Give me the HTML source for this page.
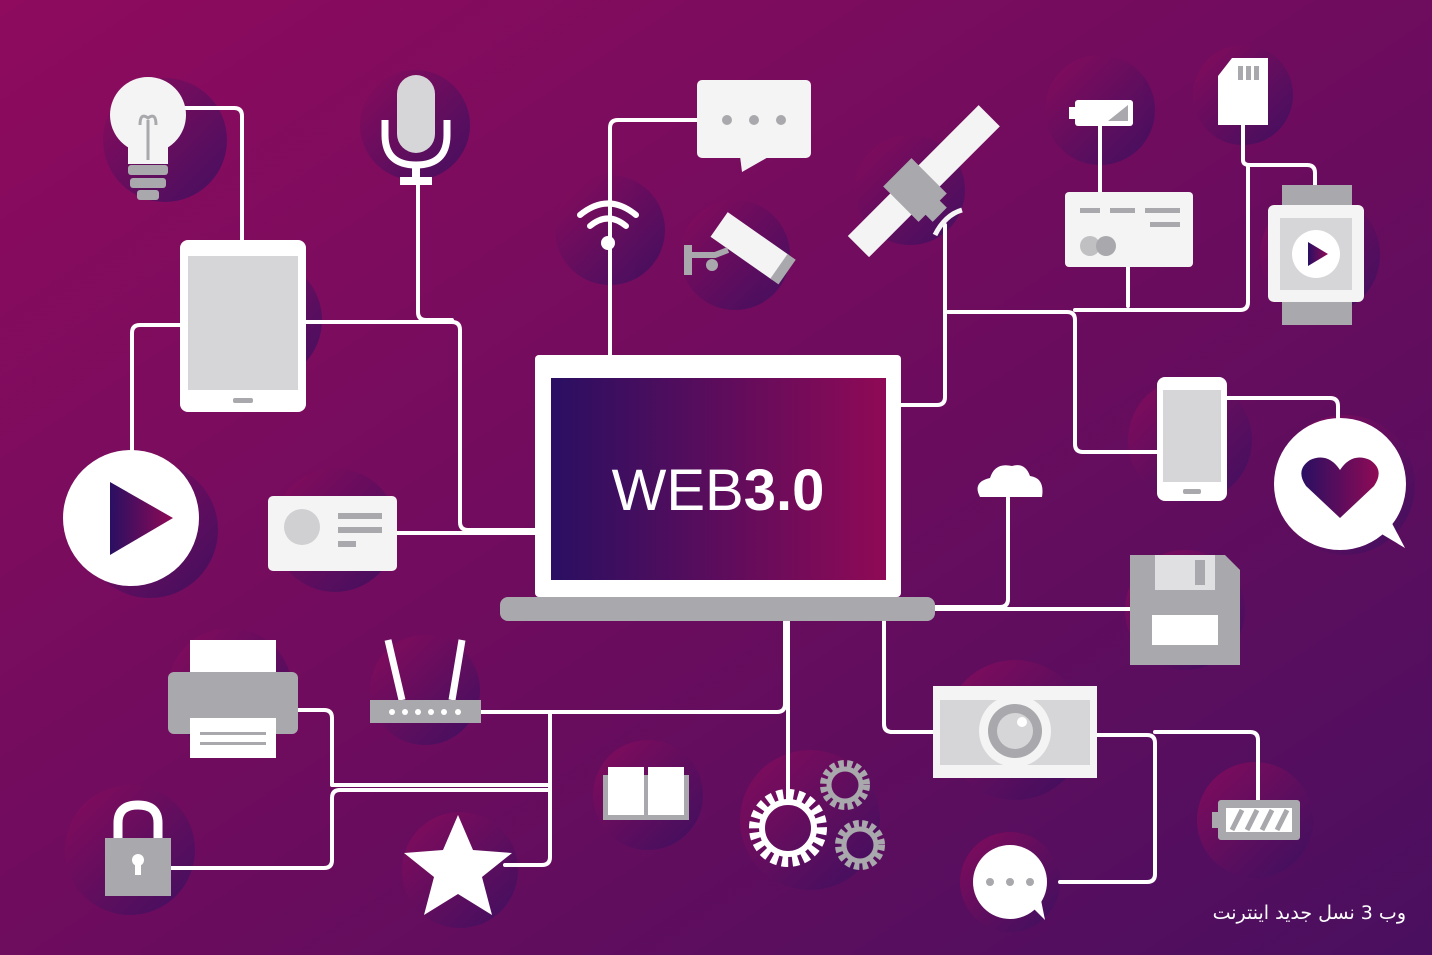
<!DOCTYPE html>
<html><head><meta charset="utf-8"><style>
html,body{margin:0;padding:0;width:1432px;height:955px;overflow:hidden;position:relative}
svg{display:block}
.cap{position:absolute;right:26px;top:902px;font-family:"DejaVu Sans",sans-serif;font-size:19px;color:#fff;direction:rtl;white-space:nowrap}
</style></head><body>
<svg width="1432" height="955" viewBox="0 0 1432 955" xmlns="http://www.w3.org/2000/svg">
<defs>
<linearGradient id="bg" x1="0" y1="0" x2="1" y2="1">
<stop offset="0" stop-color="#8e0b5e"/><stop offset="0.5" stop-color="#6e0c5e"/><stop offset="1" stop-color="#4a0f5f"/>
</linearGradient>
<linearGradient id="scr" x1="0" y1="0" x2="1" y2="0">
<stop offset="0" stop-color="#2a0f62"/><stop offset="1" stop-color="#8f0a56"/>
</linearGradient>
<linearGradient id="blob" x1="0" y1="0" x2="1" y2="1">
<stop offset="0" stop-color="#8a0b5c"/><stop offset="1" stop-color="#3a1060"/>
</linearGradient>
<linearGradient id="tri" x1="0" y1="0" x2="1" y2="0">
<stop offset="0" stop-color="#2a0f62"/><stop offset="1" stop-color="#8f0a56"/>
</linearGradient>
</defs>
<rect width="1432" height="955" fill="url(#bg)"/>
<g fill="url(#blob)" opacity="0.85">
<circle cx="165" cy="140" r="62"/><circle cx="415" cy="125" r="55"/><circle cx="610" cy="230" r="55"/>
<circle cx="735" cy="255" r="55"/><circle cx="910" cy="190" r="55"/><circle cx="1100" cy="110" r="55"/>
<circle cx="1243" cy="95" r="50"/><circle cx="1320" cy="255" r="60"/><circle cx="1190" cy="440" r="62"/>
<circle cx="260" cy="320" r="62"/><circle cx="150" cy="530" r="68"/><circle cx="335" cy="530" r="62"/>
<circle cx="230" cy="690" r="62"/><circle cx="425" cy="690" r="55"/><circle cx="130" cy="850" r="65"/>
<circle cx="460" cy="870" r="58"/><circle cx="648" cy="795" r="55"/><circle cx="810" cy="820" r="70"/>
<circle cx="1015" cy="730" r="70"/><circle cx="1255" cy="820" r="58"/><circle cx="1010" cy="882" r="50"/>
<circle cx="1185" cy="610" r="60"/><circle cx="1345" cy="485" r="70"/>
</g>
<g fill="none" stroke="#fff" stroke-width="4" stroke-linejoin="round" stroke-linecap="round">
<path d="M185 108 H234 Q242 108 242 116 V240"/>
<path d="M180 325 H140 Q132 325 132 333 V452"/>
<path d="M306 322 H452 Q460 322 460 330 V522 Q460 530 468 530 H535"/>
<path d="M418 185 V312 Q418 320 426 320 H452"/>
<path d="M397 533 H535"/>
<path d="M697 120 H618 Q610 120 610 128 V355"/>
<path d="M945 225 V397 Q945 405 937 405 H900"/>
<path d="M948 312 H1067 Q1075 312 1075 320 V444 Q1075 452 1083 452 H1157"/>
<path d="M1128 267 V306"/>
<path d="M1100 125 V192"/>
<path d="M1243 125 V160 Q1243 165 1250 165 H1307 Q1315 165 1315 173 V185"/>
<path d="M1248 165 V302 Q1248 310 1240 310 H1075"/>
<path d="M1227 398 H1330 Q1338 398 1338 406 V418"/>
<path d="M1008 498 V599 Q1008 607 1000 607 H935"/>
<path d="M935 609 H1130"/>
<path d="M785 620 V704 Q785 712 777 712 H481"/>
<path d="M550 712 V857 Q550 865 542 865 H505"/>
<path d="M298 710 H324 Q332 710 332 718 V785 H550"/>
<path d="M170 868 H324 Q332 868 332 860 V798 Q332 790 340 790 H550"/>
<path d="M788 620 V800"/>
<path d="M884 620 V724 Q884 732 892 732 H933"/>
<path d="M1097 735 H1147 Q1155 735 1155 743 V874 Q1155 882 1147 882 H1060"/>
<path d="M1155 732 H1250 Q1258 732 1258 740 V800"/>
</g>
<rect x="535" y="355" width="366" height="242" rx="4" fill="#fff"/>
<rect x="551" y="378" width="335" height="202" fill="url(#scr)"/>
<rect x="500" y="597" width="435" height="24" rx="8" fill="#a9a9ad"/>
<text x="718" y="510" text-anchor="middle" font-family="Liberation Sans, sans-serif" font-size="58" fill="#fff"><tspan font-weight="300">WEB</tspan><tspan font-weight="bold">3.0</tspan></text>
<circle cx="148" cy="115" r="38" fill="#f4f4f4"/><rect x="128" y="140" width="40" height="24" fill="#f4f4f4"/>
<rect x="128" y="165" width="40" height="10" rx="3" fill="#a9a9ad"/><rect x="130" y="178" width="36" height="10" rx="3" fill="#a9a9ad"/><rect x="137" y="190" width="22" height="10" rx="3" fill="#a9a9ad"/>
<path d="M148 160 V120 M140 125 Q140 112 148 118 Q156 112 156 125" stroke="#a9a9ad" stroke-width="3" fill="none"/>
<rect x="180" y="240" width="126" height="172" rx="8" fill="#fff"/><rect x="188" y="256" width="110" height="134" fill="#d6d6d8"/><rect x="233" y="398" width="20" height="5" rx="2" fill="#a9a9ad"/>
<circle cx="131" cy="518" r="68" fill="#fff"/><polygon points="110,482 110,555 173,518" fill="url(#tri)"/>
<rect x="268" y="496" width="129" height="75" rx="5" fill="#f4f4f4"/><circle cx="302" cy="527" r="18" fill="#d0d0d2"/>
<rect x="338" y="513" width="44" height="6" fill="#a9a9ad"/><rect x="338" y="527" width="44" height="6" fill="#a9a9ad"/><rect x="338" y="541" width="18" height="6" fill="#a9a9ad"/>
<rect x="397" y="75" width="38" height="78" rx="19" fill="#d6d6d8"/><path d="M385 120 V135 Q385 165 416 165 Q447 165 447 135 V120" fill="none" stroke="#fff" stroke-width="7"/>
<rect x="412" y="165" width="8" height="12" fill="#fff"/><rect x="400" y="177" width="32" height="8" fill="#fff"/>
<rect x="697" y="80" width="114" height="78" rx="5" fill="#f4f4f4"/><polygon points="740,156 770,156 742,172" fill="#f4f4f4"/>
<circle cx="727" cy="120" r="5" fill="#a9a9ad"/><circle cx="754" cy="120" r="5" fill="#a9a9ad"/><circle cx="781" cy="120" r="5" fill="#a9a9ad"/>
<g fill="none" stroke="#fff" stroke-width="6" stroke-linecap="round"><path d="M580 215 Q608 192 636 215"/><path d="M590 226 Q608 211 626 226"/></g><circle cx="608" cy="243" r="7" fill="#fff"/>
<g transform="rotate(35 745 245)"><rect x="712" y="228" width="75" height="30" fill="#f4f4f4"/><rect x="785" y="228" width="10" height="30" fill="#a9a9ad"/></g>
<path d="M690 255 H715 L728 250" stroke="#a9a9ad" stroke-width="6" fill="none"/><rect x="684" y="245" width="8" height="30" fill="#a9a9ad"/><circle cx="712" cy="265" r="6" fill="#a9a9ad"/>
<g transform="rotate(-45 915 190)"><rect x="835" y="175" width="70" height="30" fill="#f4f4f4"/><rect x="925" y="175" width="95" height="30" fill="#f4f4f4"/><rect x="895" y="165" width="40" height="50" fill="#a9a9ad"/><rect x="905" y="213" width="20" height="12" fill="#a9a9ad"/></g>
<path d="M935 235 Q945 215 962 210" stroke="#f4f4f4" stroke-width="5" fill="none"/>
<rect x="1075" y="100" width="58" height="26" rx="3" fill="#fff"/><rect x="1069" y="107" width="8" height="12" fill="#fff"/><polygon points="1108,121 1128,105 1128,121" fill="#a9a9ad"/>
<polygon points="1232,58 1268,58 1268,125 1218,125 1218,76" fill="#fff"/><g fill="#a9a9ad"><rect x="1238" y="66" width="5" height="14"/><rect x="1246" y="66" width="5" height="14"/><rect x="1254" y="66" width="5" height="14"/></g>
<rect x="1065" y="192" width="128" height="75" rx="4" fill="#f4f4f4"/><g fill="#a9a9ad"><rect x="1080" y="208" width="20" height="5"/><rect x="1110" y="208" width="25" height="5"/><rect x="1145" y="208" width="35" height="5"/><rect x="1150" y="222" width="30" height="5"/></g>
<circle cx="1090" cy="246" r="10" fill="#c0c0c2"/><circle cx="1106" cy="246" r="10" fill="#a9a9ad"/>
<rect x="1282" y="185" width="70" height="22" fill="#a9a9ad"/><rect x="1282" y="300" width="70" height="25" fill="#a9a9ad"/>
<rect x="1268" y="205" width="96" height="97" rx="6" fill="#f4f4f4"/><rect x="1280" y="218" width="72" height="72" fill="#d6d6d8"/><circle cx="1316" cy="254" r="24" fill="#fff"/><polygon points="1308,242 1308,266 1328,254" fill="url(#tri)"/>
<rect x="1157" y="377" width="70" height="124" rx="8" fill="#fff"/><rect x="1163" y="390" width="58" height="92" fill="#d6d6d8"/><rect x="1183" y="489" width="18" height="5" rx="2" fill="#a9a9ad"/>
<circle cx="1340" cy="484" r="66" fill="#fff"/><polygon points="1375,530 1405,548 1385,510" fill="#fff"/>
<path d="M1340 518 L1306 486 Q1295 470 1310 460 Q1328 452 1340 470 Q1352 452 1370 460 Q1385 470 1374 486 Z" fill="url(#tri)"/>
<path d="M980 497 Q972 482 990 478 Q995 462 1012 466 Q1025 462 1030 476 Q1045 478 1042 497 Z" fill="#fff"/>
<polygon points="1130,555 1225,555 1240,570 1240,665 1130,665" fill="#a9a9ad"/><rect x="1155" y="555" width="60" height="35" fill="#e0e0e2"/><rect x="1195" y="560" width="10" height="25" fill="#a9a9ad"/><rect x="1152" y="615" width="66" height="30" fill="#fff"/>
<rect x="933" y="686" width="164" height="92" fill="#f4f4f4"/><rect x="940" y="700" width="150" height="65" fill="#d6d6d8"/>
<circle cx="1015" cy="731" r="36" fill="#f4f4f4"/><circle cx="1015" cy="731" r="27" fill="#a9a9ad"/><circle cx="1015" cy="731" r="18" fill="#d6d6d8"/><circle cx="1022" cy="722" r="5" fill="#fff"/>
<rect x="1218" y="800" width="82" height="40" rx="3" fill="#a9a9ad"/><rect x="1212" y="812" width="8" height="16" fill="#a9a9ad"/><rect x="1226" y="808" width="66" height="24" fill="#fff"/>
<g stroke="#a9a9ad" stroke-width="5"><path d="M1232 830 L1242 810 M1247 830 L1257 810 M1262 830 L1272 810 M1277 830 L1287 810"/></g>
<circle cx="1010" cy="882" r="37" fill="#fff"/><polygon points="1030,905 1045,920 1040,895" fill="#fff"/>
<circle cx="990" cy="882" r="4" fill="#a9a9ad"/><circle cx="1010" cy="882" r="4" fill="#a9a9ad"/><circle cx="1030" cy="882" r="4" fill="#a9a9ad"/>
<circle cx="788" cy="828" r="32" fill="none" stroke="#fff" stroke-width="14" stroke-dasharray="6 4"/><circle cx="788" cy="828" r="26" fill="none" stroke="#fff" stroke-width="6"/>
<circle cx="845" cy="785" r="20" fill="none" stroke="#a9a9ad" stroke-width="10" stroke-dasharray="5 3"/><circle cx="845" cy="785" r="16" fill="none" stroke="#a9a9ad" stroke-width="5"/>
<circle cx="860" cy="845" r="20" fill="none" stroke="#a9a9ad" stroke-width="10" stroke-dasharray="5 3"/><circle cx="860" cy="845" r="16" fill="none" stroke="#a9a9ad" stroke-width="5"/>
<rect x="603" y="775" width="86" height="45" fill="#a9a9ad"/><rect x="608" y="767" width="36" height="48" fill="#fff"/><rect x="648" y="767" width="36" height="48" fill="#fff"/>
<polygon points="458,815 473,850 512,853 482,877 492,915 458,894 424,915 434,877 404,853 443,850" fill="#fff"/>
<path d="M388 640 L402 700 M462 640 L452 700" stroke="#fff" stroke-width="7"/><rect x="370" y="700" width="111" height="23" fill="#a9a9ad"/>
<g fill="#fff"><circle cx="392" cy="712" r="3"/><circle cx="405" cy="712" r="3"/><circle cx="418" cy="712" r="3"/><circle cx="431" cy="712" r="3"/><circle cx="444" cy="712" r="3"/><circle cx="458" cy="712" r="3"/></g>
<rect x="190" y="640" width="86" height="45" fill="#fff"/><rect x="168" y="672" width="130" height="62" rx="6" fill="#a9a9ad"/><rect x="190" y="718" width="86" height="40" fill="#fff"/>
<rect x="200" y="732" width="66" height="3" fill="#a9a9ad"/><rect x="200" y="742" width="66" height="3" fill="#a9a9ad"/>
<path d="M118 840 V823 Q118 805 138 805 Q158 805 158 823 V840" fill="none" stroke="#fff" stroke-width="9"/><rect x="105" y="838" width="66" height="58" fill="#a9a9ad"/><circle cx="138" cy="860" r="6" fill="#fff"/><rect x="135" y="860" width="6" height="15" fill="#fff"/>
</svg>
<div class="cap">وب 3 نسل جدید اینترنت</div>
</body></html>
